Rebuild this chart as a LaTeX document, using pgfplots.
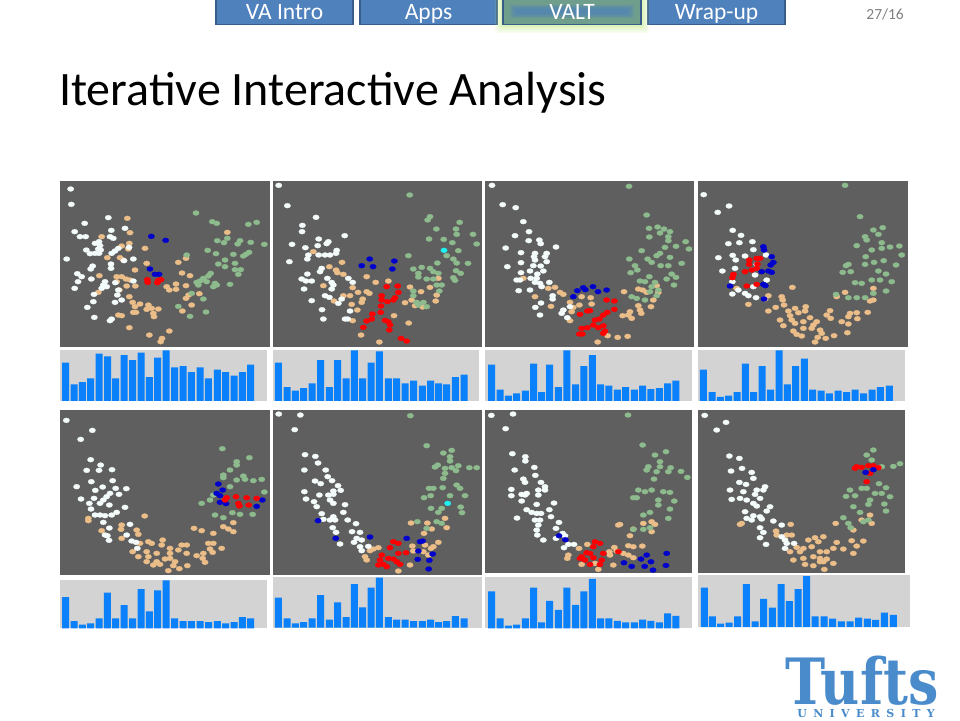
\documentclass[border=0pt]{standalone}
\usepackage{pgfplots}
\pgfplotsset{compat=1.18}
\usepackage{fontspec}
\setmainfont{Carlito}
\newfontfamily\logofont{DejaVu Serif}
\newfontfamily\logosmall[LetterSpace=58]{DejaVu Serif}

\definecolor{panelbg}{HTML}{5F5F5F}
\definecolor{barbg}{HTML}{D3D3D3}
\definecolor{barblue}{HTML}{0A80FA}
\definecolor{ptan}{HTML}{EBBD88}
\definecolor{pgreen}{HTML}{8DBB8D}
\definecolor{pwhite}{HTML}{F3FBFB}
\definecolor{pblue}{HTML}{0000CD}
\definecolor{pcyan}{HTML}{1FF0F0}
\definecolor{tabfill}{HTML}{4F81BD}
\definecolor{tabline}{HTML}{385D8A}
\definecolor{valtfill}{HTML}{6F9E8C}
\definecolor{glow}{HTML}{C8EE90}
\definecolor{tufts}{HTML}{4A8CCB}

\pgfplotsset{
  panel/.style={scale only axis, anchor=north west, y dir=reverse,
    axis background/.style={fill=panelbg}, axis line style={draw=none},
    xtick=\empty, ytick=\empty},
  pts/.style={only marks, mark=*, mark size=2.5pt,
    mark options={xscale=1.3, draw=#1, line width=0.2pt, fill=#1}},
  hist/.style={scale only axis, anchor=north west, ymin=0,
    axis background/.style={fill=barbg}, axis line style={draw=none},
    xtick=\empty, ytick=\empty, ybar, bar shift=0pt},
  bars/.style={fill=barblue, draw=none, bar width=21},
}

\begin{document}
\begin{tikzpicture}
\path[use as bounding box, fill=white] (0pt,0pt) rectangle (960pt,720pt);

% nav tabs
\foreach \xa/\xb/\lab in {216/353/VA Intro,360/497/Apps,648/785/Wrap-up} {
  \draw[fill=tabfill, draw=tabline, line width=1.8pt]
    (\xa pt,695.5pt) rectangle (\xb pt,722pt);
  \node[white, font=\fontsize{23.5}{23.5}\selectfont, anchor=base, inner sep=0pt] at ({(\xa+\xb)/2*1pt},700.5pt) {\lab};
}
\foreach \g/\o in {8/0.12,6.5/0.14,5/0.16,3.5/0.2,2/0.25} {
  \fill[glow, opacity=\o, rounded corners=3pt]
    ({(503-\g)*1pt},{(695-\g)*1pt}) rectangle ({(641+\g)*1pt},722pt);
}
\draw[fill=valtfill, draw=tabline, line width=1.8pt]
  (503pt,695.5pt) rectangle (641pt,722pt);
\foreach \g in {0,1,2,3,4} {
  \fill[tabfill, opacity=0.22, rounded corners=2pt]
    ({(510+\g*1.6)*1pt},{(702+\g)*1pt}) rectangle ({(634-\g*1.6)*1pt},{(715-\g)*1pt});
}
\node[white, font=\fontsize{23.5}{23.5}\selectfont, anchor=base, inner sep=0pt] at (572pt,700.5pt) {VALT};
\node[black!50, font=\fontsize{15.5}{15.5}\selectfont, anchor=base east, inner sep=0pt] at (904pt,700.5pt) {27/16};

% title
\node[black, font=\fontsize{48}{48}\selectfont, anchor=base west, inner sep=0pt] at (59pt,614pt)
  {Iterative Interactive Analysis};

% --- top row scatter ---
\begin{axis}[panel, at={(60pt,539pt)}, width=210pt, height=165.7pt, xmin=30, xmax=660, ymin=18, ymax=515]
\addplot[pts=ptan] coordinates {(232,130)(240,173)(155,185)(238,205)(215,213)(285,220)(235,222)(172,248)(210,248)(290,265)(220,255)(255,285)(148,302)(200,305)(215,305)(228,312)(240,315)(200,320)(230,333)(256,333)(208,345)(145,352)(238,365)(248,382)(270,387)(255,395)(295,390)(250,412)(258,412)(290,403)(305,400)(325,402)(310,415)(312,425)(205,420)(215,422)(238,458)(298,480)(358,468)(336,490)(332,500)(350,335)(358,345)(378,343)(378,327)(408,332)(385,262)(408,250)(396,294)(420,302)(448,356)(416,360)(408,370)(425,390)(397,408)(532,172)};
\addplot[pts=pgreen] coordinates {(438,114)(487,140)(500,145)(595,148)(620,142)(532,190)(502,197)(522,203)(570,197)(563,207)(602,202)(643,208)(473,226)(498,236)(550,238)(597,232)(588,238)(580,243)(410,240)(525,255)(505,267)(555,265)(525,275)(555,284)(572,284)(565,298)(482,295)(475,303)(460,310)(450,318)(470,320)(440,322)(445,330)(495,325)(490,335)(500,330)(540,328)(425,355)(460,372)(385,394)(468,411)(420,424)};
\addplot[pts=pwhite] coordinates {(62,42)(64,88)(175,128)(104,145)(74,170)(184,166)(225,160)(90,185)(107,185)(180,185)(190,190)(135,205)(147,200)(150,212)(145,222)(109,225)(152,225)(120,236)(135,235)(147,235)(205,220)(195,228)(185,235)(237,217)(50,252)(250,252)(222,257)(183,267)(183,280)(128,273)(122,282)(82,296)(95,305)(124,312)(84,320)(74,340)(165,320)(160,330)(155,340)(170,335)(196,323)(250,318)(205,345)(202,360)(132,358)(130,380)(195,382)(215,375)(112,397)(133,427)(185,432)(180,437)};
\addplot[pts=red] coordinates {(292,314)(293,322)(325,316)(333,314)(322,323)};
\addplot[pts=pblue] coordinates {(304,184)(347,196)(300,282)(315,298)(327,298)};
\end{axis}

\begin{axis}[panel, at={(272.7pt,539pt)}, width=209.3pt, height=165.7pt, xmin=668, xmax=1296, ymin=18, ymax=515]
\addplot[pts=ptan] coordinates {(790,230)(876,262)(838,275)(858,285)(862,293)(880,298)(820,332)(908,338)(924,352)(950,350)(958,355)(880,362)(900,362)(938,372)(935,382)(852,378)(905,388)(922,405)(950,305)(977,322)(1015,318)(1080,336)(1113,350)(1140,337)(1165,310)(1160,360)(1157,378)(1065,383)(1085,375)(1095,392)(1118,396)(1032,422)(908,437)(1076,444)(933,480)(988,501)};
\addplot[pts=pgreen] coordinates {(1079,60)(1140,125)(1133,135)(1229,142)(1159,162)(1218,162)(1220,178)(1269,178)(1137,192)(1181,193)(1207,203)(1280,207)(1225,227)(1075,242)(1190,242)(1210,252)(1220,264)(1254,265)(1162,264)(1115,277)(1090,282)(1140,280)(1150,290)(1165,295)(1105,295)(1105,306)(1130,312)(1150,312)(1218,287)(1232,295)(1210,308)(1215,316)(1175,330)(1160,330)(1090,348)(1090,362)(1168,348)(1100,382)(1120,382)(1130,395)(1105,390)};
\addplot[pts=pwhite] coordinates {(686,31)(712,92)(798,127)(757,151)(756,170)(806,192)(884,182)(726,208)(766,218)(803,212)(835,200)(830,206)(860,226)(858,235)(775,240)(772,252)(806,240)(825,240)(840,240)(718,260)(815,280)(810,290)(772,297)(755,312)(768,318)(785,318)(832,310)(845,322)(850,330)(845,342)(895,310)(908,322)(762,342)(825,362)(838,367)(875,372)(865,385)(785,377)(900,408)(816,404)(820,432)(885,432)(893,432)};
\addplot[pts=red] coordinates {(1010,335)(1043,333)(1045,352)(1035,368)(1030,375)(995,362)(995,375)(1012,380)(993,393)(992,412)(967,417)(965,432)(950,438)(1005,436)(1015,440)(1020,450)(940,457)(1018,465)(1053,490)(1070,498)};
\addplot[pts=pblue] coordinates {(959,252)(935,272)(969,275)(1033,258)(1027,282)};
\addplot[pts=pcyan] coordinates {(1182,226)};
\end{axis}

\begin{axis}[panel, at={(485pt,539pt)}, width=209.3pt, height=165.7pt, xmin=15, xmax=643, ymin=18, ymax=515]
\addplot[pts=ptan] coordinates {(130,310)(205,340)(225,337)(240,352)(250,358)(165,365)(213,394)(270,382)(280,397)(275,410)(305,365)(332,368)(335,387)(270,437)(298,390)(432,350)(475,342)(488,345)(500,352)(530,332)(535,352)(520,375)(475,392)(513,395)(480,405)(484,415)(450,410)(428,422)(445,420)(455,430)(383,482)(413,487)(443,484)(353,501)};
\addplot[pts=pgreen] coordinates {(447,34)(500,120)(507,160)(533,156)(552,162)(570,170)(540,174)(508,186)(565,185)(565,197)(617,200)(627,222)(588,214)(555,217)(485,227)(540,235)(530,242)(570,247)(503,252)(515,262)(448,252)(465,272)(472,285)(452,293)(542,272)(565,272)(605,265)(575,297)(588,307)(560,312)(508,305)(480,318)(495,320)(515,335)(525,322)(582,330)(510,350)(455,365)(470,370)(495,375)(530,362)(535,345)};
\addplot[pts=pwhite] coordinates {(36,31)(68,89)(107,98)(130,140)(147,170)(105,182)(178,195)(146,197)(182,206)(77,219)(228,216)(123,233)(165,235)(162,245)(200,235)(195,245)(165,255)(200,260)(123,263)(160,272)(182,273)(82,275)(123,293)(150,288)(172,297)(190,288)(152,310)(170,310)(110,315)(120,315)(165,322)(180,325)(185,335)(116,347)(150,345)(208,322)(218,362)(218,372)(183,384)(166,397)(180,420)(250,405)(270,395)(245,415)(262,428)};
\addplot[pts=red] coordinates {(380,375)(403,378)(403,403)(330,407)(322,408)(300,418)(382,412)(370,420)(358,432)(345,435)(370,452)(340,450)(355,458)(322,458)(305,460)(298,477)(307,477)(375,468)(370,475)};
\addplot[pts=pblue] coordinates {(292,347)(310,338)(316,344)(339,335)(354,350)(380,345)(280,365)};
\end{axis}

\begin{axis}[panel, at={(697.7pt,539pt)}, width=210pt, height=165.7pt, xmin=653, xmax=1283, ymin=18, ymax=515]
\addplot[pts=ptan] coordinates {(937,337)(770,340)(905,365)(908,375)(865,362)(855,372)(805,388)(887,397)(865,408)(912,390)(945,400)(977,395)(975,408)(925,408)(955,413)(930,422)(900,435)(935,435)(910,452)(945,445)(970,440)(990,428)(1010,440)(1050,407)(1040,420)(1052,430)(1000,450)(970,460)(995,460)(1020,465)(940,468)(950,478)(965,483)(1025,475)(1013,487)(1037,490)(1062,482)(1005,501)(1085,440)(1105,425)(1110,415)(1130,413)(1132,431)(1163,412)(1105,447)(1102,473)(1095,352)(1070,365)(1180,340)(1180,375)(1170,378)};
\addplot[pts=pgreen] coordinates {(1095,31)(1140,125)(1180,165)(1208,158)(1155,185)(1160,195)(1195,178)(1130,212)(1205,203)(1230,216)(1258,213)(1205,220)(1175,225)(1157,245)(1265,240)(1182,262)(1211,257)(1155,268)(1105,268)(1098,272)(1088,292)(1112,290)(1248,270)(1195,288)(1218,297)(1175,315)(1200,315)(1235,320)(1145,325)(1125,323)(1218,348)(1180,355)(1068,358)(1105,368)(1130,368)(1155,368)};
\addplot[pts=pwhite] coordinates {(671,59)(713,112)(747,93)(758,166)(783,181)(745,206)(778,203)(817,200)(820,224)(715,248)(758,241)(795,243)(767,255)(830,268)(765,280)(727,288)(825,300)(858,240)(860,315)(757,320)(820,335)(775,345)(795,355)(805,362)(757,357)(828,368)};
\addplot[pts=pblue] coordinates {(850,215)(852,225)(875,245)(880,262)(872,270)(865,288)(875,292)(845,290)(750,333)(850,328)(856,332)(852,372)};
\addplot[pts=red] coordinates {(808,255)(807,268)(830,250)(840,250)(832,267)(830,280)(815,285)(795,290)(760,298)(757,308)(800,333)(830,328)};
\end{axis}

% --- top row histograms ---
\begin{axis}[hist, at={(60pt,370.3pt)}, width=206.7pt, height=51.3pt, xmin=30, xmax=650, ymax=154]
\addplot[bars] coordinates {(47,115)(72,50)(97,57)(122,68)(147,142)(173,134)(197,68)(222,138)(248,123)(273,145)(298,72)(323,130)(348,152)(374,101)(399,105)(424,87)(450,101)(475,68)(502,94)(527,87)(552,76)(577,87)(602,109)};
\end{axis}
\begin{axis}[hist, at={(272.7pt,370.3pt)}, width=206.7pt, height=51.3pt, xmin=668, xmax=1288, ymax=154]
\addplot[bars] coordinates {(685,115)(711,42)(736,31)(761,39)(786,53)(812,123)(838,42)(863,123)(888,68)(913,152)(938,68)(963,115)(988,149)(1015,68)(1040,68)(1065,53)(1091,61)(1117,46)(1142,61)(1166,53)(1190,50)(1216,72)(1242,79)};
\end{axis}
\begin{axis}[hist, at={(485pt,370.3pt)}, width=207.3pt, height=51.3pt, xmin=15, xmax=637, ymax=154]
\addplot[bars] coordinates {(35,109)(60,34)(85,16)(110,23)(136,31)(161,112)(185,27)(209,109)(235,42)(261,152)(287,50)(312,105)(337,138)(362,50)(387,46)(412,34)(437,42)(463,34)(488,46)(513,36)(538,39)(563,53)(588,61)};
\end{axis}
\begin{axis}[hist, at={(697.7pt,370.3pt)}, width=207.3pt, height=51.3pt, xmin=653, xmax=1275, ymax=154]
\addplot[bars] coordinates {(670,94)(696,27)(721,12)(746,16)(771,27)(796,112)(821,27)(846,105)(872,34)(897,152)(922,50)(947,105)(973,127)(998,34)(1023,31)(1048,23)(1074,31)(1100,27)(1125,34)(1151,23)(1176,34)(1201,42)(1228,46)};
\end{axis}

% --- bottom row scatter ---
\begin{axis}[panel, at={(60pt,310.3pt)}, width=210pt, height=165.3pt, xmin=30, xmax=660, ymin=14, ymax=510]
\addplot[pts=ptan] coordinates {(284,333)(115,340)(115,347)(215,360)(213,373)(155,377)(260,375)(265,388)(215,400)(270,415)(295,410)(305,415)(338,405)(335,420)(248,440)(265,455)(290,440)(320,445)(360,430)(385,435)(395,420)(410,420)(410,445)(295,455)(320,470)(345,462)(360,460)(375,470)(290,470)(310,480)(330,478)(355,497)(388,491)(370,482)(412,482)(440,452)(460,445)(465,472)(458,460)(488,442)(480,432)(475,415)(490,415)(515,430)(432,370)(455,377)(490,385)(520,365)(535,372)(550,380)(550,353)(360,445)};
\addplot[pts=pgreen] coordinates {(517,131)(598,158)(560,170)(560,180)(540,195)(520,210)(520,218)(560,225)(580,213)(585,223)(610,227)(635,223)(540,245)(643,261)(490,270)(480,285)(455,295)(495,330)(520,338)(547,323)(570,328)(608,328)};
\addplot[pts=pwhite] coordinates {(49,46)(127,76)(92,103)(122,164)(152,180)(110,196)(147,196)(186,194)(124,230)(188,227)(80,245)(158,246)(197,250)(229,251)(136,256)(180,265)(207,268)(170,275)(160,285)(150,295)(93,282)(132,280)(118,295)(178,300)(225,307)(123,312)(200,322)(135,330)(150,330)(165,332)(185,330)(160,352)(178,369)(240,358)(165,390)(172,392)(177,406)(245,408)(258,412)(230,390)(262,430)};
\addplot[pts=pblue] coordinates {(505,237)(518,255)(500,265)(510,272)(510,292)(528,296)(620,304)(637,285)};
\addplot[pts=red] coordinates {(530,278)(558,275)(590,278)(620,280)(565,295)(568,303)(596,300)(525,285)};
\end{axis}

\begin{axis}[panel, at={(272.7pt,310.3pt)}, width=209.3pt, height=165.3pt, xmin=668, xmax=1296, ymin=14, ymax=510]
\addplot[pts=ptan] coordinates {(1083,354)(1132,354)(1145,372)(1190,368)(1122,385)(1165,412)(985,428)(970,432)(1087,423)(1125,420)(1150,425)(1120,440)(1135,450)(1090,438)(945,455)(950,465)(1080,480)(1045,498)(960,437)(1143,430)(1185,340)};
\addplot[pts=pgreen] coordinates {(1081,32)(1130,122)(1180,144)(1205,136)(1200,155)(1200,168)(1163,180)(1155,186)(1185,190)(1205,188)(1225,182)(1258,188)(1280,188)(1218,197)(1185,205)(1180,220)(1220,240)(1230,250)(1245,272)(1137,250)(1150,250)(1178,248)(1142,272)(1122,278)(1200,272)(1175,310)(1165,322)(1143,310)(1232,306)(1236,323)(1102,350)(1160,350)(1175,355)(1130,370)};
\addplot[pts=pwhite] coordinates {(686,27)(751,30)(734,74)(765,149)(796,154)(804,174)(763,195)(827,195)(833,215)(795,228)(812,236)(846,227)(864,242)(763,260)(850,258)(872,256)(808,270)(835,270)(850,268)(768,282)(792,290)(800,305)(840,285)(850,295)(885,299)(880,322)(815,326)(850,335)(840,345)(855,345)(820,343)(893,345)(918,356)(848,368)(858,382)(906,380)(930,382)(870,417)(920,400)(935,405)(912,412)(955,424)(930,425)(935,437)};
\addplot[pts=red] coordinates {(1030,410)(1045,415)(1020,428)(1045,445)(1068,443)(995,450)(990,465)(1015,460)(1040,470)(1050,478)(985,480)(1010,485)(1000,478)(1030,462)};
\addplot[pts=pblue] coordinates {(804,347)(857,400)(960,396)(1070,400)(1110,410)(1118,408)(1105,438)(1148,447)(1138,466)(1103,463)(1136,492)};
\addplot[pts=pcyan] coordinates {(1193,295)};
\end{axis}

\begin{axis}[panel, at={(485pt,310.3pt)}, width=207.3pt, height=163.7pt, xmin=15, xmax=637, ymin=14, ymax=505]
\addplot[pts=ptan] coordinates {(420,358)(415,360)(515,350)(490,355)(525,358)(460,372)(515,380)(450,392)(322,418)(297,430)(403,427)(445,422)(460,425)(487,423)(265,450)(262,460)(388,440)(390,450)(430,445)(445,450)(460,458)(400,480)(305,478)(355,493)(345,475)(410,438)};
\addplot[pts=pgreen] coordinates {(444,30)(488,120)(558,140)(525,150)(540,170)(505,185)(540,185)(572,188)(500,195)(530,200)(565,200)(603,199)(622,217)(522,222)(515,255)(495,260)(550,260)(570,262)(475,255)(460,278)(470,278)(535,285)(583,288)(535,300)(570,312)(510,322)(490,330)(565,340)(460,373)(490,373)(510,368)};
\addplot[pts=pwhite] coordinates {(34,31)(99,27)(77,71)(97,146)(136,155)(136,168)(163,187)(104,195)(166,211)(130,222)(135,232)(183,232)(94,253)(195,245)(175,255)(195,255)(140,265)(125,268)(94,272)(135,270)(175,270)(125,288)(222,294)(170,298)(140,314)(208,314)(155,322)(170,325)(183,325)(111,339)(165,345)(213,335)(180,345)(175,360)(237,352)(170,375)(228,370)(172,390)(190,405)(228,400)(248,385)(255,392)(265,418)(252,428)(282,418)};
\addplot[pts=red] coordinates {(345,410)(360,415)(340,425)(320,443)(330,445)(300,460)(315,465)(340,458)(365,465)(360,478)(330,478)(370,445)(415,440)(305,455)};
\addplot[pts=pblue] coordinates {(237,392)(256,404)(432,473)(455,484)(483,462)(500,450)(513,470)(494,484)(519,495)(560,445)(558,481)};
\end{axis}

\begin{axis}[panel, at={(697.7pt,310.3pt)}, width=207.3pt, height=163.7pt, xmin=653, xmax=1275, ymin=14, ymax=505]
\addplot[pts=ptan] coordinates {(785,355)(780,358)(932,358)(888,378)(920,390)(935,390)(890,390)(985,405)(1005,398)(1030,395)(1015,410)(950,427)(970,430)(995,425)(930,440)(960,440)(1070,412)(1115,407)(1150,408)(1130,423)(1090,432)(1060,430)(1040,440)(1020,440)(1120,445)(940,465)(970,460)(1000,455)(1020,460)(1040,462)(975,478)(1000,482)(1030,470)(1060,475)(1033,493)(1067,355)(1120,375)(1170,330)(1175,355)(1145,345)(1020,470)};
\addplot[pts=pgreen] coordinates {(1180,135)(1160,150)(1175,165)(1240,184)(1260,176)(1205,185)(1197,236)(1218,248)(1145,250)(1160,250)(1110,255)(1125,272)(1098,274)(1185,265)(1205,265)(1230,275)(1170,285)(1165,298)(1213,297)(1120,305)(1140,322)(1218,318)(1090,338)(1105,355)(1150,350)(1165,345)(1112,368)};
\addplot[pts=pwhite] coordinates {(674,31)(738,52)(710,75)(748,153)(778,160)(786,190)(753,198)(815,202)(820,220)(778,232)(798,238)(855,245)(750,255)(790,260)(850,255)(830,255)(825,268)(780,280)(755,283)(800,285)(840,280)(820,295)(830,303)(870,305)(795,320)(860,318)(820,332)(840,335)(800,340)(815,345)(845,342)(880,348)(840,368)(850,382)(905,360)(840,398)(858,418)(905,395)(915,405)(920,415)(942,415)(915,430)};
\addplot[pts=red] coordinates {(1130,185)(1145,187)(1165,182)(1180,182)(1195,188)(1170,205)(1160,230)(1125,190)};
\addplot[pts=pblue] coordinates {(1157,202)(1180,194)};
\end{axis}

% --- bottom row histograms ---
\begin{axis}[hist, at={(60pt,140.3pt)}, width=206.7pt, height=48.7pt, xmin=30, xmax=650, ymax=146]
\addplot[bars] coordinates {(47,94)(72,22)(97,11)(122,15)(147,30)(172,107)(197,30)(222,70)(248,30)(273,118)(298,51)(323,114)(348,144)(374,30)(399,22)(424,22)(450,22)(476,19)(502,22)(527,15)(552,19)(577,34)(602,30)};
\end{axis}
\begin{axis}[hist, at={(272.7pt,143.3pt)}, width=209.3pt, height=51pt, xmin=668, xmax=1296, ymax=153]
\addplot[bars] coordinates {(685,90)(711,28)(736,13)(761,17)(786,28)(812,98)(838,24)(863,76)(888,32)(913,131)(938,61)(963,120)(988,150)(1015,32)(1040,24)(1065,24)(1091,20)(1117,20)(1142,24)(1166,17)(1190,20)(1216,35)(1242,28)};
\end{axis}
\begin{axis}[hist, at={(485pt,142.7pt)}, width=207.3pt, height=51pt, xmin=15, xmax=637, ymax=153]
\addplot[bars] coordinates {(35,111)(60,30)(85,8)(110,11)(136,30)(161,122)(185,18)(209,82)(235,55)(261,122)(287,70)(312,111)(337,148)(362,30)(387,30)(412,22)(437,18)(463,18)(488,26)(513,22)(538,18)(563,45)(588,37)};
\end{axis}
\begin{axis}[hist, at={(697.7pt,145pt)}, width=212.3pt, height=52pt, xmin=653, xmax=1290, ymax=155]
\addplot[bars] coordinates {(673,117)(697,32)(722,10)(747,13)(773,32)(799,128)(825,17)(851,84)(877,58)(903,128)(928,77)(954,113)(980,152)(1005,32)(1032,32)(1058,25)(1084,17)(1110,17)(1136,28)(1162,25)(1187,21)(1213,43)(1240,36)};
\end{axis}

% logo
\node[tufts, font=\logofont\bfseries\fontsize{62}{62}\selectfont, anchor=base, inner sep=0pt, xscale=0.87, yscale=1.03] at (862pt,16pt) {Tufts};
\node[tufts, font=\logosmall\bfseries\fontsize{11}{11}\selectfont, anchor=base, inner sep=0pt] at (866pt,2.5pt) {UNIVERSITY};
\end{tikzpicture}
\end{document}
